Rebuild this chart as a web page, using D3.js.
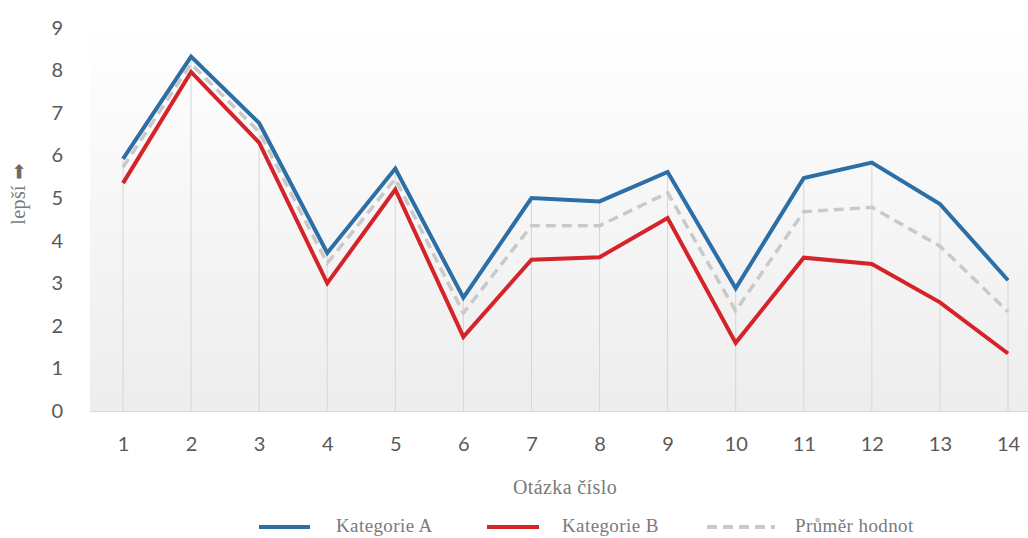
<!DOCTYPE html>
<html>
<head>
<meta charset="utf-8">
<script src="https://cdn.jsdelivr.net/npm/d3@7"></script>
<style>
  html, body { margin: 0; padding: 0; background: #fff; }
  svg { display: block; }
</style>
</head>
<body>
<svg id="chart" width="1028" height="538"></svg>
<script>
const categories = ["1","2","3","4","5","6","7","8","9","10","11","12","13","14"];
const kategorieA = [5.92, 8.32, 6.76, 3.71, 5.69, 2.66, 5.00, 4.92, 5.61, 2.88, 5.47, 5.83, 4.86, 3.07];
const kategorieB = [5.35, 7.96, 6.30, 3.00, 5.20, 1.74, 3.55, 3.61, 4.53, 1.60, 3.60, 3.45, 2.55, 1.35];
const prumer     = [5.72, 8.15, 6.55, 3.47, 5.45, 2.30, 4.35, 4.35, 5.12, 2.35, 4.68, 4.78, 3.87, 2.33];
const yTicks = [0,1,2,3,4,5,6,7,8,9];
const seriesNames = ["Kategorie A", "Kategorie B", "Průměr hodnot"];

const svg = d3.select("#chart");
const plotLeft = 90, plotRight = 1028, plotTop = 20, plotBottom = 411;

const x = d3.scalePoint().domain(categories).range([123, 1008]);
const y = d3.scaleLinear().domain([0, 9]).range([411, 27.6]);

// background gradient
const defs = svg.append("defs");
const grad = defs.append("linearGradient").attr("id","bg").attr("x1",0).attr("y1",0).attr("x2",0).attr("y2",1);
grad.append("stop").attr("offset","0%").attr("stop-color","#ffffff");
grad.append("stop").attr("offset","100%").attr("stop-color","#ededed");
svg.append("rect").attr("x", plotLeft).attr("y", plotTop)
  .attr("width", plotRight - plotLeft).attr("height", plotBottom - plotTop)
  .attr("fill", "url(#bg)");

// drop lines (from highest value to axis)
svg.append("g").selectAll("line").data(categories).join("line")
  .attr("x1", d => x(d)).attr("x2", d => x(d))
  .attr("y1", y(0))
  .attr("y2", (d, i) => y(Math.max(kategorieA[i], kategorieB[i], prumer[i])))
  .attr("stroke", "#d6d6d6").attr("stroke-width", 1);

// x axis
const xAxis = svg.append("g").attr("transform", `translate(0,${y(0)})`)
  .call(d3.axisBottom(x).tickSize(0).tickPadding(26));
xAxis.select(".domain").attr("d", `M${plotLeft},0.5H${plotRight}`).attr("stroke", "#d9d9d9");
xAxis.selectAll("text").attr("font-family", "Lato, 'Open Sans', sans-serif")
  .attr("font-size", 20).attr("fill", "#595959");

// y axis
const yAxis = svg.append("g").attr("transform", `translate(${plotLeft},0)`)
  .call(d3.axisLeft(y).tickValues(yTicks).tickSize(0).tickPadding(27).tickFormat(d3.format("d")));
yAxis.select(".domain").remove();
yAxis.selectAll("text").attr("font-family", "Lato, 'Open Sans', sans-serif")
  .attr("font-size", 20).attr("fill", "#595959");

const line = d3.line().x((d, i) => x(categories[i])).y(d => y(d));

svg.append("path").datum(prumer).attr("d", line).attr("fill", "none")
  .attr("stroke", "#c9c9c9").attr("stroke-width", 3.5).attr("stroke-dasharray", "10,6");
svg.append("path").datum(kategorieB).attr("d", line).attr("fill", "none")
  .attr("stroke", "#d5232a").attr("stroke-width", 4).attr("stroke-linejoin", "miter");
svg.append("path").datum(kategorieA).attr("d", line).attr("fill", "none")
  .attr("stroke", "#2c6ea6").attr("stroke-width", 4).attr("stroke-linejoin", "miter");

// axis titles
svg.append("text").attr("x", 565).attr("y", 494).attr("text-anchor", "middle")
  .attr("font-family", "'Liberation Serif', serif").attr("font-size", 20).attr("fill", "#7a7a7a")
  .attr("letter-spacing", 0.4)
  .text("Otázka číslo");

const yt = svg.append("text").attr("transform", "translate(25,194) rotate(-90)").attr("text-anchor", "middle")
  .attr("font-family", "'Liberation Serif', serif").attr("font-size", 20).attr("fill", "#7a7a7a")
  .attr("letter-spacing", 0.4);
yt.append("tspan").text("lepší ");
yt.append("tspan").attr("font-family", "'DejaVu Sans', sans-serif").attr("font-size", 19).attr("fill", "#6a6a6a").text("➡");

// legend
const legendItems = [
  {name: seriesNames[0], color: "#2c6ea6", dash: null, x1: 259, x2: 310, tx: 336},
  {name: seriesNames[1], color: "#d5232a", dash: null, x1: 487, x2: 539, tx: 562},
  {name: seriesNames[2], color: "#c9c9c9", dash: "10,6", x1: 707, x2: 775, tx: 795}
];
const lg = svg.append("g");
legendItems.forEach(it => {
  lg.append("line").attr("x1", it.x1).attr("x2", it.x2).attr("y1", 527).attr("y2", 527)
    .attr("stroke", it.color).attr("stroke-width", 4).attr("stroke-dasharray", it.dash);
  lg.append("text").attr("x", it.tx).attr("y", 532)
    .attr("font-family", "'Liberation Serif', serif").attr("font-size", 19).attr("fill", "#7a7a7a")
    .attr("letter-spacing", 0.4)
    .text(it.name);
});
</script>
</body>
</html>
